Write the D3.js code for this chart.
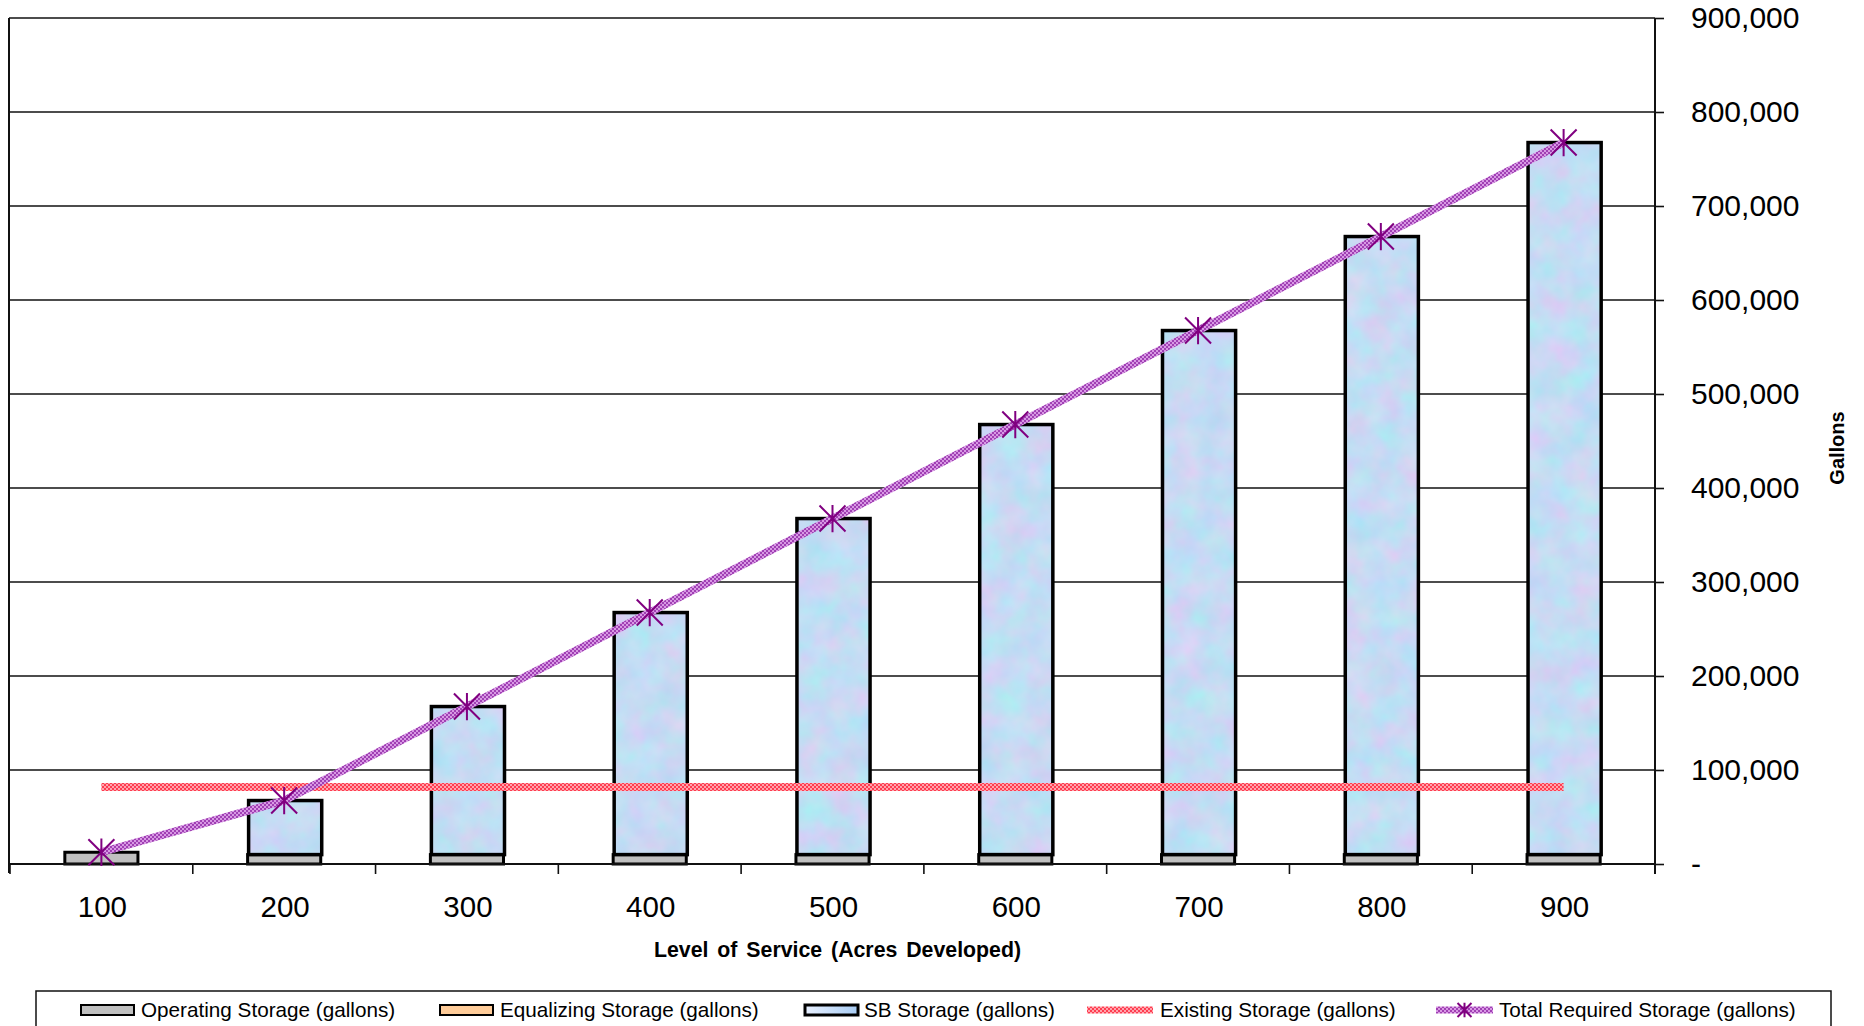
<!DOCTYPE html>
<html><head><meta charset="utf-8">
<script src="https://cdn.jsdelivr.net/npm/d3@7"></script>
<style>
html,body{margin:0;padding:0;background:#fff;}
svg{display:block;font-family:"Liberation Sans",Arial,sans-serif;}
</style></head>
<body>
<svg id="chart" width="1864" height="1026"></svg>
<script>
// ---- data ----
const categories = ["100","200","300","400","500","600","700","800","900"];
const operatingStorage = [12500,10000,10000,10000,10000,10000,10000,10000,10000];
const equalizingStorage = [0,0,0,0,0,0,0,0,0];
const sbStorage = [0,57500,157500,257500,357500,457500,557500,657500,757500];
const existingStorage = [82000,82000,82000,82000,82000,82000,82000,82000,82000];
const totalRequired = [12500,67500,167500,267500,367500,467500,567500,667500,767500];
const yTickValues = [0,100000,200000,300000,400000,500000,600000,700000,800000,900000];
const legendLabels = ["Operating Storage (gallons)","Equalizing Storage (gallons)","SB Storage (gallons)","Existing Storage (gallons)","Total Required Storage (gallons)"];
const xTitle = "Level of Service (Acres Developed)";
const yTitle = "Gallons";

// ---- layout ----
const L = 10, R = 1655, T = 18, B = 864;
const svg = d3.select("#chart");
const defs = svg.append("defs");

// checkered patterns for lines
function checker(id, c1, c2){
  const p = defs.append("pattern").attr("id",id).attr("patternUnits","userSpaceOnUse")
    .attr("width",4).attr("height",4);
  p.append("rect").attr("width",4).attr("height",4).attr("fill",c2);
  p.append("rect").attr("width",2).attr("height",2).attr("fill",c1);
  p.append("rect").attr("x",2).attr("y",2).attr("width",2).attr("height",2).attr("fill",c1);
}
checker("purpleCheck","#a040b4","#d898e4");
checker("redCheck","#ff3c50","#ffa4ac");

// marbled texture filter for SB bars
const f = defs.append("filter").attr("id","tex").attr("filterUnits","userSpaceOnUse")
  .attr("color-interpolation-filters","sRGB")
  .attr("x",0).attr("y",0).attr("width",1864).attr("height",1026);
f.append("feTurbulence").attr("type","fractalNoise").attr("baseFrequency","0.035").attr("numOctaves",3).attr("seed",7).attr("result","n");
f.append("feColorMatrix").attr("in","n").attr("type","matrix")
  .attr("values","0.26 0 0 0 0.64  -0.12 0.1 0 0 0.87  0 0 0.05 0 0.93  0 0 0 0 1").attr("result","c");
f.append("feComposite").attr("in","c").attr("in2","SourceGraphic").attr("operator","in");

// gradient for legend SB swatch
const lgGrad = defs.append("linearGradient").attr("id","sbLeg");
lgGrad.append("stop").attr("offset","0%").attr("stop-color","#e8f0ff");
lgGrad.append("stop").attr("offset","100%").attr("stop-color","#a8ccf4");

const x = d3.scaleBand().domain(categories).range([L,R]).paddingInner(0).paddingOuter(0);
const y = d3.scaleLinear().domain([0,900000]).range([B,T]);
const bw = x.bandwidth()*0.4;
const cx = c => x(c)+x.bandwidth()/2;

// gridlines
svg.append("g").selectAll("line").data(yTickValues.filter(v=>v>0)).join("line")
  .attr("x1",9).attr("x2",R).attr("y1",d=>y(d)).attr("y2",d=>y(d))
  .attr("stroke","#111").attr("stroke-width",1.6);

// left border line
svg.append("line").attr("x1",9).attr("x2",9).attr("y1",y(900000)).attr("y2",B+9)
  .attr("stroke","#111").attr("stroke-width",2);

// bars
const rows = categories.map((c,i)=>({c, op:operatingStorage[i], eq:equalizingStorage[i], sb:sbStorage[i]}));
const gb = svg.append("g");
rows.forEach(r=>{
  const x0 = cx(r.c)-bw/2;
  if(r.op>0){
    gb.append("rect").attr("x",x0).attr("y",y(r.op)).attr("width",bw).attr("height",y(0)-y(r.op))
      .attr("fill","#c0c0c0").attr("stroke","#000").attr("stroke-width",3);
  }
  if(r.eq>0){
    gb.append("rect").attr("x",x0).attr("y",y(r.op+r.eq)).attr("width",bw).attr("height",y(r.op)-y(r.op+r.eq))
      .attr("fill","#ffcc99").attr("stroke","#000").attr("stroke-width",3);
  }
  if(r.sb>0){
    const y1 = y(r.op+r.eq+r.sb), y0 = y(r.op+r.eq);
    gb.append("rect").attr("x",x0+1).attr("y",y1).attr("width",bw).attr("height",y0-y1)
      .attr("fill","#fff").attr("filter","url(#tex)");
    gb.append("rect").attr("x",x0+1).attr("y",y1).attr("width",bw).attr("height",y0-y1)
      .attr("fill","none").attr("stroke","#000").attr("stroke-width",3.5);
  }
});

// x axis line & ticks
svg.append("line").attr("x1",9).attr("x2",R).attr("y1",B).attr("y2",B).attr("stroke","#111").attr("stroke-width",2);
const bounds = categories.map(c=>x(c)).concat([R]);
svg.append("g").selectAll("line").data(bounds).join("line")
  .attr("x1",d=>d).attr("x2",d=>d).attr("y1",B).attr("y2",B+10)
  .attr("stroke","#111").attr("stroke-width",1.6);
svg.append("g").selectAll("text").data(categories).join("text")
  .attr("x",d=>cx(d)+1).attr("y",B+53).attr("text-anchor","middle")
  .attr("font-size",29.5).attr("fill","#000").text(d=>d);

// right axis
const yAxis = d3.axisRight(y).tickValues(yTickValues).tickSizeInner(9).tickSizeOuter(0).tickPadding(27)
  .tickFormat(d=> d===0 ? "-" : d3.format(",")(d));
const ga = svg.append("g").attr("transform",`translate(${R},0)`).call(yAxis);
ga.select(".domain").attr("stroke","#111").attr("stroke-width",2).attr("d",`M0,${T}V${B+10}`);
ga.selectAll(".tick line").attr("stroke","#111").attr("stroke-width",1.6);
ga.selectAll(".tick text").attr("font-size",30).attr("font-family","Liberation Sans, Arial, sans-serif").attr("fill","#000").attr("text-anchor","start");

// existing storage line
const line = d3.line().x(d=>cx(d.c)).y(d=>y(d.v));
svg.append("path").datum(categories.map((c,i)=>({c,v:existingStorage[i]})))
  .attr("d",line).attr("fill","none").attr("stroke","url(#redCheck)").attr("stroke-width",8);

// total required line
const totData = categories.map((c,i)=>({c,v:totalRequired[i]}));
svg.append("path").datum(totData).attr("d",line).attr("fill","none")
  .attr("stroke","url(#purpleCheck)").attr("stroke-width",8);

function star(g, px, py, s){
  g.append("path").attr("d",`M${px-s},${py-s}L${px+s},${py+s}M${px-s},${py+s}L${px+s},${py-s}M${px},${py-s*1.05}L${px},${py+s*1.05}`)
    .attr("stroke","#800080").attr("stroke-width",2).attr("fill","none");
}
const gm = svg.append("g");
totData.forEach(d=>star(gm, cx(d.c), y(d.v), 13));

// titles
svg.append("text").attr("x",(L+R)/2+5).attr("y",957).attr("text-anchor","middle")
  .attr("font-size",21.3).attr("font-weight","bold").attr("word-spacing",3).text(xTitle);
svg.append("text").attr("transform","translate(1844,448) rotate(-90)").attr("text-anchor","middle")
  .attr("font-size",20).attr("font-weight","bold").text(yTitle);

// legend
svg.append("rect").attr("x",36).attr("y",991).attr("width",1795).attr("height",40)
  .attr("fill","#fff").attr("stroke","#111").attr("stroke-width",1.5);
const ly = 1010;
const legX = [81,440,805,1087,1436];
const lg = svg.append("g");
lg.append("rect").attr("x",legX[0]).attr("y",ly-5).attr("width",53).attr("height",10).attr("fill","#c0c0c0").attr("stroke","#000").attr("stroke-width",2);
lg.append("rect").attr("x",legX[1]).attr("y",ly-5).attr("width",53).attr("height",10).attr("fill","#ffcc99").attr("stroke","#000").attr("stroke-width",2);
lg.append("rect").attr("x",legX[2]).attr("y",ly-5).attr("width",53).attr("height",10).attr("fill","url(#sbLeg)").attr("stroke","#000").attr("stroke-width",3);
lg.append("line").attr("x1",legX[3]).attr("x2",legX[3]+66).attr("y1",ly).attr("y2",ly).attr("stroke","url(#redCheck)").attr("stroke-width",7);
lg.append("line").attr("x1",legX[4]).attr("x2",legX[4]+57).attr("y1",ly).attr("y2",ly).attr("stroke","url(#purpleCheck)").attr("stroke-width",7);
star(lg, legX[4]+28.5, ly, 7);
const textX = [141,500,864,1160,1499];
lg.selectAll("text").data(legendLabels).join("text")
  .attr("x",(d,i)=>textX[i]).attr("y",ly).attr("dy","0.35em")
  .attr("font-size",20.7).attr("fill","#000").text(d=>d);
</script>
</body></html>
